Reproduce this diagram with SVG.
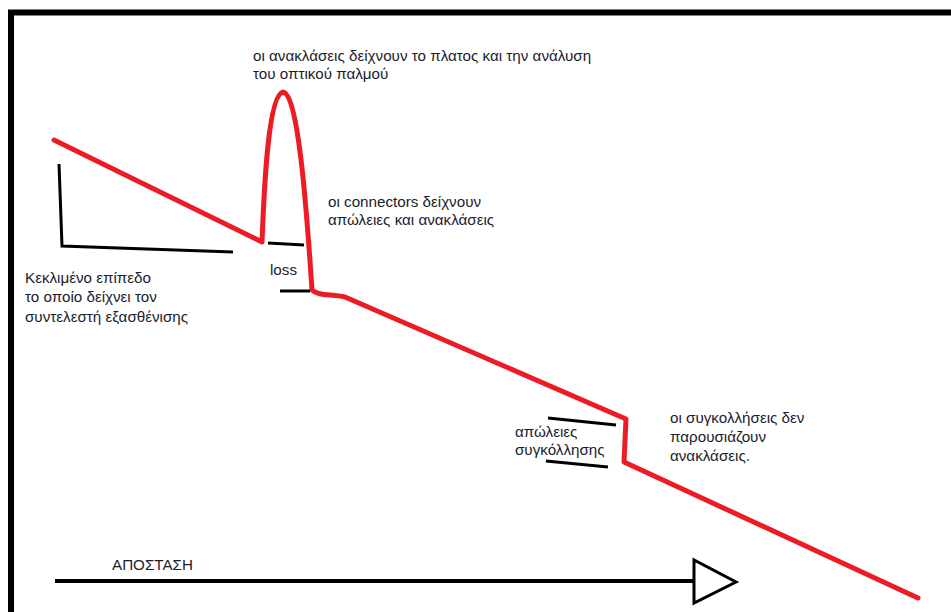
<svg xmlns="http://www.w3.org/2000/svg" width="951" height="612" viewBox="0 0 951 612">
<style>
text{font-family:"Liberation Sans",Arial,sans-serif;font-size:15.2px;fill:#1c1c2c}
.red{fill:none;stroke:#ed1c24;stroke-width:5;stroke-linejoin:round;stroke-linecap:round}
.blk{fill:none;stroke:#000;stroke-width:3}
</style>
<rect width="951" height="612" fill="#fff"/>
<path d="M11,612 V12.5 H951" fill="none" stroke="#000" stroke-width="6"/>
<g id="trace">
<path class="red" d="M54,140 L262,242 C264,190 268,95 283,92 C298,95 306,200 312,290 C318,296 330,294 345,297 L626,419 L624,462 L918,598"/>
</g>
<g id="connectors">
<path class="blk" d="M59,164 L62,246 L233,252"/>
<path class="blk" d="M268,243 L304,245"/>
<path class="blk" d="M280,291 L310,291"/>
<path class="blk" d="M548,418 L616,425"/>
<path class="blk" d="M546,461 L608,467"/>
<path d="M55,581 H693" fill="none" stroke="#000" stroke-width="4"/>
<path d="M694,560 L694,603 L736,582 Z" fill="#fff" stroke="#000" stroke-width="3" stroke-linejoin="miter"/>
</g>
<g id="label-reflection">
<text x="253" y="61">οι ανακλάσεις δείχνουν το πλατος και την ανάλυση</text>
<text x="253" y="79">του οπτικού παλμού</text>
</g>
<g id="label-connectors">
<text x="328" y="207">οι connectors δείχνουν</text>
<text x="328" y="225">απώλειες και ανακλάσεις</text>
</g>
<g id="label-slope">
<text x="25" y="283">Κεκλιμένο επίπεδο</text>
<text x="25" y="302">το οποίο δείχνει τον</text>
<text x="25" y="322">συντελεστή εξασθένισης</text>
</g>
<g id="label-loss">
<text x="270" y="275">loss</text>
</g>
<g id="label-splice">
<text x="515" y="437">απώλειες</text>
<text x="515" y="455">συγκόλλησης</text>
</g>
<g id="label-splice-note">
<text x="670" y="423">οι συγκολλήσεις δεν</text>
<text x="670" y="442">παρουσιάζουν</text>
<text x="670" y="461">ανακλάσεις.</text>
</g>
<g id="label-distance">
<text x="112" y="570">ΑΠΟΣΤΑΣΗ</text>
</g>
</svg>
